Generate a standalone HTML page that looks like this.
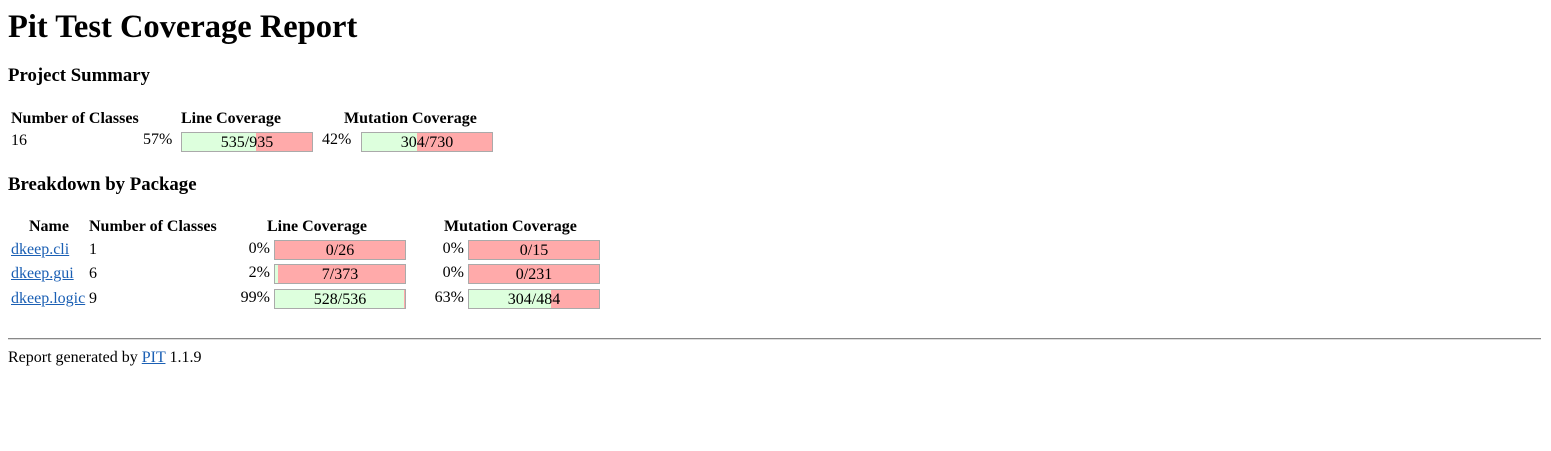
<!DOCTYPE html>
<html><head><meta charset="utf-8"><style>
body{margin:0;width:1551px;height:451px;background:#fff;font-family:"Liberation Serif",serif;font-size:16px;color:#000;position:relative;overflow:hidden}
.a{position:absolute;white-space:nowrap;line-height:18px}
.b{font-weight:bold}
.bar{position:absolute;width:130px;height:18px;border:1px solid #aaa;background:#ffaaaa;overflow:hidden}
.bar .g{position:absolute;left:0;top:0;height:18px;background:#ddffdd}
.bar .t{position:absolute;left:0;width:130px;top:0;text-align:center;line-height:19px}
a{color:#1a5fb4;text-decoration:underline}
.r{text-align:right}
</style></head><body>
<div class="a b" style="left:8px;top:8px;font-size:32.5px;line-height:38px">Pit Test Coverage Report</div>
<div class="a b" style="left:8px;top:67px;font-size:18.8px">Project Summary</div>
<div class="a b" style="left:11px;top:110px">Number of Classes</div>
<div class="a b" style="left:181px;top:110px">Line Coverage</div>
<div class="a b" style="left:344px;top:110px">Mutation Coverage</div>
<div class="a" style="left:11px;top:132px">16</div>
<div class="a" style="left:143px;top:131px">57%</div>
<div class="bar" style="left:181px;top:132px"><div class="g" style="width:57%"></div><div class="t">535/935</div></div>
<div class="a" style="left:322px;top:131px">42%</div>
<div class="bar" style="left:361px;top:132px"><div class="g" style="width:42%"></div><div class="t">304/730</div></div>

<div class="a b" style="left:8px;top:176px;font-size:18.8px">Breakdown by Package</div>
<div class="a b" style="left:29px;top:218px">Name</div>
<div class="a b" style="left:89px;top:218px">Number of Classes</div>
<div class="a b" style="left:267px;top:218px">Line Coverage</div>
<div class="a b" style="left:444px;top:218px">Mutation Coverage</div>

<div class="a" style="left:11px;top:241px"><a>dkeep.cli</a></div>
<div class="a" style="left:89px;top:241px">1</div>
<div class="a r" style="left:220px;width:50px;top:240px">0%</div>
<div class="bar" style="left:274px;top:240px"><div class="g" style="width:0%"></div><div class="t">0/26</div></div>
<div class="a r" style="left:414px;width:50px;top:240px">0%</div>
<div class="bar" style="left:468px;top:240px"><div class="g" style="width:0%"></div><div class="t">0/15</div></div>

<div class="a" style="left:11px;top:265px"><a>dkeep.gui</a></div>
<div class="a" style="left:89px;top:265px">6</div>
<div class="a r" style="left:220px;width:50px;top:264px">2%</div>
<div class="bar" style="left:274px;top:264px"><div class="g" style="width:2%"></div><div class="t">7/373</div></div>
<div class="a r" style="left:414px;width:50px;top:264px">0%</div>
<div class="bar" style="left:468px;top:264px"><div class="g" style="width:0%"></div><div class="t">0/231</div></div>

<div class="a" style="left:11px;top:290px"><a>dkeep.logic</a></div>
<div class="a" style="left:89px;top:290px">9</div>
<div class="a r" style="left:220px;width:50px;top:289px">99%</div>
<div class="bar" style="left:274px;top:289px"><div class="g" style="width:99%"></div><div class="t">528/536</div></div>
<div class="a r" style="left:414px;width:50px;top:289px">63%</div>
<div class="bar" style="left:468px;top:289px"><div class="g" style="width:63%"></div><div class="t">304/484</div></div>

<div style="position:absolute;left:8px;top:338px;width:1533px;height:0;border-top:1px solid #888;border-bottom:1px solid #ddd"></div>
<div class="a" style="left:8px;top:349px">Report generated by <a>PIT</a> 1.1.9</div>
</body></html>
